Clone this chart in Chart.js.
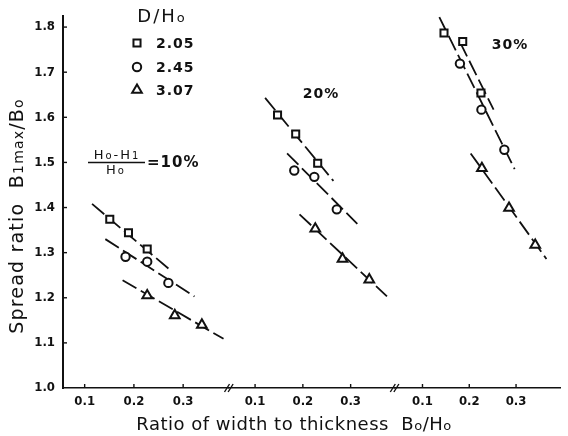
<!DOCTYPE html>
<html><head><meta charset="utf-8">
<script src="https://cdn.jsdelivr.net/npm/chart.js@4/dist/chart.umd.min.js"></script>
<style>html,body{margin:0;padding:0;background:#fff}canvas{display:block}</style>
</head><body>
<canvas id="c" width="568" height="436"></canvas>
<script>
// ---- data ----
const reductionLabels = ['10%', '20%', '30%'];
const seriesLabels = ['2.05', '2.45', '3.07'];
const xTicks = [0.1, 0.2, 0.3];
const yTicks = [1.0, 1.1, 1.2, 1.3, 1.4, 1.5, 1.6, 1.7, 1.8];

// (Ho-H1)/Ho = 10 %
const r10sqX = [0.151, 0.189, 0.227], r10sqY = [1.374, 1.344, 1.308];
const r10ciX = [0.183, 0.227, 0.270], r10ciY = [1.291, 1.280, 1.233];
const r10trX = [0.227, 0.283, 0.338], r10trY = [1.205, 1.161, 1.140];
// 20 %
const r20sqX = [0.147, 0.185, 0.231], r20sqY = [1.605, 1.563, 1.498];
const r20ciX = [0.182, 0.224, 0.271], r20ciY = [1.482, 1.468, 1.396];
const r20trX = [0.226, 0.283, 0.339], r20trY = [1.353, 1.286, 1.240];
// 30 %
const r30sqX = [0.146, 0.186, 0.225], r30sqY = [1.787, 1.768, 1.654];
const r30ciX = [0.180, 0.226, 0.275], r30ciY = [1.719, 1.617, 1.528];
const r30trX = [0.227, 0.285, 0.341], r30trY = [1.487, 1.399, 1.317];

// fitted (dashed) lines, end points
const f10sqX = [0.115, 0.271], f10sqY = [1.408, 1.264];
const f10ciX = [0.142, 0.323], f10ciY = [1.330, 1.203];
const f10trX = [0.177, 0.382], f10trY = [1.239, 1.109];
const f20sqX = [0.121, 0.264], f20sqY = [1.643, 1.459];
const f20ciX = [0.167, 0.314], f20ciY = [1.520, 1.364];
const f20trX = [0.193, 0.376], f20trY = [1.385, 1.203];
const f30sqX = [0.180, 0.252], f30sqY = [1.767, 1.617];
const f30ciX = [0.136, 0.297], f30ciY = [1.822, 1.485];
const f30trX = [0.203, 0.365], f30trY = [1.520, 1.286];

// ---- build ----
const INK = '#111';
const pts = (xs, ys) => xs.map((x, i) => ({x: x, y: ys[i]}));
const styles = ['rect', 'circle', 'triangle'];
const radii = [5, 4.2, 5.6];

function markers(xs, ys, s, axis) {
  return {data: pts(xs, ys), xAxisID: axis, yAxisID: 'y', showLine: false, order: 0,
    pointStyle: styles[s], pointRadius: radii[s], pointBorderWidth: 2,
    pointBorderColor: INK, pointBackgroundColor: '#fff', label: seriesLabels[s]};
}
function fit(xs, ys, axis) {
  return {data: pts(xs, ys), xAxisID: axis, yAxisID: 'y', showLine: true, order: 1,
    pointRadius: 0, borderColor: INK, borderWidth: 1.8, borderDash: [16, 5], fill: false, label: 'fit'};
}

const datasets = [
  fit(f10sqX, f10sqY, 'x1'), fit(f10ciX, f10ciY, 'x1'), fit(f10trX, f10trY, 'x1'),
  fit(f20sqX, f20sqY, 'x2'), fit(f20ciX, f20ciY, 'x2'), fit(f20trX, f20trY, 'x2'),
  fit(f30sqX, f30sqY, 'x3'), fit(f30ciX, f30ciY, 'x3'), fit(f30trX, f30trY, 'x3'),
  markers(r10sqX, r10sqY, 0, 'x1'), markers(r10ciX, r10ciY, 1, 'x1'), markers(r10trX, r10trY, 2, 'x1'),
  markers(r20sqX, r20sqY, 0, 'x2'), markers(r20ciX, r20ciY, 1, 'x2'), markers(r20trX, r20trY, 2, 'x2'),
  markers(r30sqX, r30sqY, 0, 'x3'), markers(r30ciX, r30ciY, 1, 'x3'), markers(r30trX, r30trY, 2, 'x3')
];

const tickFont = {family: 'DejaVu Sans Condensed', weight: 'bold', size: 13};
function xAxis(min, max) {
  return {
    type: 'linear', position: 'bottom', stack: 'xb', stackWeight: 1, min: min, max: max,
    afterBuildTicks: s => { s.ticks = xTicks.map(v => ({value: v})); },
    afterFit: s => { s.height = 48; },
    grid: {display: true, drawOnChartArea: false, drawTicks: false},
    border: {display: true, color: INK, width: 1.6},
    ticks: {padding: 6, color: INK, font: tickFont, maxRotation: 0, autoSkip: false,
      callback: v => v.toFixed(1)}
  };
}

function drawRich(ctx, parts, x, y, align) {
  let w = 0;
  for (const p of parts) { ctx.font = p[1]; w += ctx.measureText(p[0]).width; }
  let cx = align === 'center' ? x - w / 2 : (align === 'right' ? x - w : x);
  ctx.textAlign = 'left';
  for (const p of parts) {
    ctx.font = p[1];
    ctx.fillText(p[0], cx, y + (p[2] || 0));
    cx += ctx.measureText(p[0]).width;
  }
  return w;
}

function drawMarker(ctx, style, r, x, y) {
  ctx.beginPath();
  if (style === 'rect') {
    const s = r * Math.SQRT1_2;
    ctx.rect(x - s, y - s, 2 * s, 2 * s);
  } else if (style === 'circle') {
    ctx.arc(x, y, r, 0, Math.PI * 2);
  } else {
    ctx.moveTo(x, y - r);
    ctx.lineTo(x + r * Math.sin(2 * Math.PI / 3), y - r * Math.cos(2 * Math.PI / 3));
    ctx.lineTo(x + r * Math.sin(4 * Math.PI / 3), y - r * Math.cos(4 * Math.PI / 3));
    ctx.closePath();
  }
  ctx.fill();
  ctx.stroke();
}

const decor = {
  id: 'decor',
  beforeDraw(chart) {
    const ctx = chart.ctx;
    ctx.save(); ctx.fillStyle = '#fff'; ctx.fillRect(0, 0, chart.width, chart.height); ctx.restore();
  },
  afterDraw(chart) {
    const ctx = chart.ctx, a = chart.chartArea;
    ctx.save();
    ctx.strokeStyle = INK; ctx.fillStyle = INK; ctx.lineWidth = 1.4;
    // inward tick marks
    const ys = chart.scales.y;
    for (const v of yTicks.slice(1)) {
      const py = ys.getPixelForValue(v);
      ctx.beginPath(); ctx.moveTo(a.left, py); ctx.lineTo(a.left + 4, py); ctx.stroke();
    }
    for (const id of ['x1', 'x2', 'x3']) {
      const s = chart.scales[id];
      for (const v of xTicks) {
        const px = s.getPixelForValue(v);
        ctx.beginPath(); ctx.moveTo(px, a.bottom); ctx.lineTo(px, a.bottom - 4); ctx.stroke();
      }
    }
    // axis break marks
    for (const id of ['x2', 'x3']) {
      const bx = chart.scales[id].left;
      for (const d of [-1.8, 1.8]) {
        ctx.beginPath(); ctx.moveTo(bx + d - 2.5, a.bottom + 4); ctx.lineTo(bx + d + 2.5, a.bottom - 4); ctx.stroke();
      }
    }
    ctx.textBaseline = 'alphabetic';
    // axis titles
    ctx.letterSpacing = '0.5px';
    drawRich(ctx, [['Ratio of width to thickness  B', '18px DejaVu Sans'], ['o', '13px DejaVu Sans'],
      ['/H', '18px DejaVu Sans'], ['o', '13px DejaVu Sans']], 294, 430, 'center');
    ctx.save();
    ctx.translate(23, 216); ctx.rotate(-Math.PI / 2);
    ctx.letterSpacing = '1.2px';
    drawRich(ctx, [['Spread ratio  B', '19px DejaVu Sans'], ['1max', '14px DejaVu Sans'],
      ['/B', '19px DejaVu Sans'], ['o', '14px DejaVu Sans']], 0, 0, 'center');
    ctx.restore();
    // legend
    ctx.letterSpacing = '2px';
    drawRich(ctx, [['D/H', '18px DejaVu Sans'], ['o', '13px DejaVu Sans']], 162, 22, 'center');
    ctx.letterSpacing = '1px';
    const rowsY = [43, 67, 90];
    ctx.lineWidth = 2; ctx.fillStyle = '#fff';
    for (let i = 0; i < 3; i++) drawMarker(ctx, styles[i], radii[i], 137, rowsY[i]);
    ctx.fillStyle = INK; ctx.textBaseline = 'middle';
    for (let i = 0; i < 3; i++) drawRich(ctx, [[seriesLabels[i], 'bold 14px DejaVu Sans']], 156, rowsY[i] + 1, 'left');
    // group labels
    drawRich(ctx, [['=' + reductionLabels[0], 'bold 15px DejaVu Sans']], 147, 163, 'left');
    drawRich(ctx, [[reductionLabels[1], 'bold 14px DejaVu Sans']], 321, 94, 'center');
    drawRich(ctx, [[reductionLabels[2], 'bold 14px DejaVu Sans']], 510, 45, 'center');
    // fraction (Ho-H1)/Ho
    ctx.letterSpacing = '2px';
    drawRich(ctx, [['H', '13px DejaVu Sans'], ['o', '10px DejaVu Sans'], ['-H', '13px DejaVu Sans'], ['1', '10px DejaVu Sans']], 117, 156, 'center');
    drawRich(ctx, [['H', '13px DejaVu Sans'], ['o', '10px DejaVu Sans']], 116, 171, 'center');
    ctx.lineWidth = 1.3;
    ctx.beginPath(); ctx.moveTo(88, 162.5); ctx.lineTo(145, 162.5); ctx.stroke();
    ctx.restore();
  }
};

new Chart(document.getElementById('c'), {
  type: 'scatter',
  data: {datasets: datasets},
  options: {
    responsive: false, animation: false, devicePixelRatio: 1, events: [],
    layout: {padding: {top: 13.5, right: 0, left: 0, bottom: 0}},
    plugins: {legend: {display: false}, tooltip: {enabled: false}},
    scales: {
      x1: xAxis(0.056, 0.3927),
      x2: xAxis(0.045, 0.392),
      x3: xAxis(0.0404, 0.3948),
      y: {
        type: 'linear', position: 'left', min: 1.0, max: 1.825,
        afterBuildTicks: s => { s.ticks = yTicks.map(v => ({value: v})); },
        afterFit: s => { s.width = 63; },
        grid: {display: true, drawOnChartArea: false, drawTicks: false},
        border: {display: true, color: INK, width: 2},
        ticks: {padding: 8, color: INK, font: tickFont, callback: v => v.toFixed(1)}
      }
    }
  },
  plugins: [decor]
});
</script>
</body></html>
